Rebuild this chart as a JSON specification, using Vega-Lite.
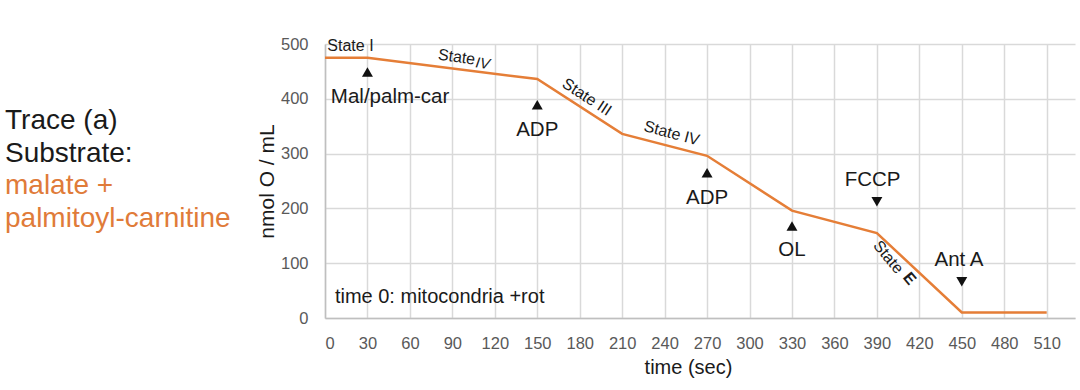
{
  "$schema": "https://vega.github.io/schema/vega-lite/v6.json",
  "background": "white",
  "padding": {"left": 5, "top": 36, "right": 5, "bottom": 5},
  "bounds": "flush",
  "spacing": 80,
  "config": {"view": {"stroke": null}, "font": "Liberation Sans"},
  "hconcat": [
    {
      "width": 240,
      "height": 274,
      "data": {"values": [
        {"line": "Trace (a)", "line_no": 1, "kind": "heading"},
        {"line": "Substrate:", "line_no": 2, "kind": "heading"},
        {"line": "malate +", "line_no": 3, "kind": "substrate"},
        {"line": "palmitoyl-carnitine", "line_no": 4, "kind": "substrate"}
      ]},
      "mark": {"type": "text", "align": "left", "baseline": "middle", "fontSize": 28, "font": "Liberation Sans"},
      "encoding": {
        "x": {"datum": 0, "type": "quantitative", "scale": {"domain": [0, 1], "nice": false, "zero": false}, "axis": null},
        "y": {"field": "line_no", "type": "quantitative", "scale": {"domain": [-1.36, 7.03], "reverse": true, "nice": false, "zero": false}, "axis": null},
        "text": {"field": "line"},
        "color": {"field": "kind", "type": "nominal", "scale": {"domain": ["heading", "substrate"], "range": ["#1a1a1a", "#E07B39"]}, "legend": null}
      }
    },
    {
      "width": 750,
      "height": 274,
      "layer": [
        {
          "data": {"values": [
            {"time": 0, "o2": 475},
            {"time": 30, "o2": 475},
            {"time": 150, "o2": 436},
            {"time": 210, "o2": 336},
            {"time": 270, "o2": 296},
            {"time": 330, "o2": 196},
            {"time": 390, "o2": 155},
            {"time": 450, "o2": 10},
            {"time": 510, "o2": 10}
          ]},
          "mark": {"type": "line", "color": "#E57E37", "strokeWidth": 2.5},
          "encoding": {
            "x": {"field": "time", "type": "quantitative",
              "scale": {"domain": [0, 530], "nice": false, "zero": false},
              "axis": {"values": [0, 30, 60, 90, 120, 150, 180, 210, 240, 270, 300, 330, 360, 390, 420, 450, 480, 510],
                "grid": true, "gridColor": "#d9d9d9", "gridWidth": 1.5, "ticks": false,
                "domainColor": "#bfbfbf", "domainWidth": 1.5,
                "labelFontSize": 16.5, "labelColor": "#595959", "labelPadding": 17, "labelFont": "Liberation Sans",
                "title": "time (sec)", "titleFontSize": 20, "titleFontWeight": "normal", "titleColor": "#1a1a1a", "titlePadding": 6, "titleFont": "Liberation Sans", "titleX": 363}},
            "y": {"field": "o2", "type": "quantitative",
              "scale": {"domain": [0, 500], "nice": false, "zero": false},
              "axis": {"values": [0, 100, 200, 300, 400, 500],
                "grid": true, "gridColor": "#d9d9d9", "gridWidth": 1.5, "ticks": false,
                "domainColor": "#bfbfbf", "domainWidth": 1.5,
                "labelFontSize": 16.5, "labelColor": "#595959", "labelPadding": 17, "labelFont": "Liberation Sans",
                "title": "nmol O / mL", "titleFontSize": 21, "titleFontWeight": "normal", "titleColor": "#1a1a1a", "titlePadding": 3, "titleFont": "Liberation Sans"}}
          }
        },
        {
          "data": {"name": "ann", "values": [
            {"time": 30, "tri": 449, "dir": "up", "label": "Mal/palm-car", "label_t": 46, "label_v": 403},
            {"time": 150, "tri": 389, "dir": "up", "label": "ADP", "label_t": 150, "label_v": 343},
            {"time": 270, "tri": 265, "dir": "up", "label": "ADP", "label_t": 270, "label_v": 219},
            {"time": 330, "tri": 168, "dir": "up", "label": "OL", "label_t": 330, "label_v": 124},
            {"time": 390, "tri": 212, "dir": "down", "label": "FCCP", "label_t": 387, "label_v": 252},
            {"time": 450, "tri": 66, "dir": "down", "label": "Ant A", "label_t": 448, "label_v": 106}
          ]},
          "layer": [
            {
              "mark": {"type": "point", "filled": true, "color": "#111111", "size": 120, "opacity": 1},
              "encoding": {
                "x": {"field": "time", "type": "quantitative"},
                "y": {"field": "tri", "type": "quantitative"},
                "shape": {"field": "dir", "type": "nominal", "scale": {"domain": ["up", "down"], "range": ["triangle-up", "triangle-down"]}, "legend": null}
              }
            },
            {
              "mark": {"type": "text", "fontSize": 20.5, "color": "#1a1a1a", "align": "center", "baseline": "middle"},
              "encoding": {
                "x": {"field": "label_t", "type": "quantitative"},
                "y": {"field": "label_v", "type": "quantitative"},
                "text": {"field": "label"}
              }
            }
          ]
        },
        {
          "data": {"values": [{"t": 7, "v": 38, "label": "time 0: mitocondria +rot"}]},
          "mark": {"type": "text", "fontSize": 20, "color": "#1a1a1a", "align": "left", "baseline": "middle"},
          "encoding": {
            "x": {"field": "t", "type": "quantitative"},
            "y": {"field": "v", "type": "quantitative"},
            "text": {"field": "label"}
          }
        },
        {
          "data": {"values": [{"t": 18, "v": 497, "label": "State I"}]},
          "mark": {"type": "text", "fontSize": 16, "color": "#1a1a1a", "align": "center", "baseline": "middle"},
          "encoding": {"x": {"field": "t", "type": "quantitative"}, "y": {"field": "v", "type": "quantitative"}, "text": {"field": "label"}}
        },
        {
          "data": {"values": [{"t": 93, "v": 476, "label": "State"}]},
          "mark": {"type": "text", "fontSize": 16, "color": "#1a1a1a", "align": "center", "baseline": "middle", "angle": 8},
          "encoding": {"x": {"field": "t", "type": "quantitative"}, "y": {"field": "v", "type": "quantitative"}, "text": {"field": "label"}}
        },
        {
          "data": {"values": [{"t": 111.5, "v": 465, "label": "IV"}]},
          "mark": {"type": "text", "fontSize": 15, "fontStyle": "italic", "color": "#1a1a1a", "align": "center", "baseline": "middle", "angle": 8},
          "encoding": {"x": {"field": "t", "type": "quantitative"}, "y": {"field": "v", "type": "quantitative"}, "text": {"field": "label"}}
        },
        {
          "data": {"values": [{"t": 185, "v": 403, "label": "State III"}]},
          "mark": {"type": "text", "fontSize": 16, "color": "#1a1a1a", "align": "center", "baseline": "middle", "angle": 33},
          "encoding": {"x": {"field": "t", "type": "quantitative"}, "y": {"field": "v", "type": "quantitative"}, "text": {"field": "label"}}
        },
        {
          "data": {"values": [{"t": 245, "v": 337, "label": "State IV"}]},
          "mark": {"type": "text", "fontSize": 16, "color": "#1a1a1a", "align": "center", "baseline": "middle", "angle": 15},
          "encoding": {"x": {"field": "t", "type": "quantitative"}, "y": {"field": "v", "type": "quantitative"}, "text": {"field": "label"}}
        },
        {
          "data": {"values": [{"t": 398, "v": 111, "label": "State"}]},
          "mark": {"type": "text", "fontSize": 16, "color": "#1a1a1a", "align": "center", "baseline": "middle", "angle": 50},
          "encoding": {"x": {"field": "t", "type": "quantitative"}, "y": {"field": "v", "type": "quantitative"}, "text": {"field": "label"}}
        },
        {
          "data": {"values": [{"t": 413, "v": 72, "label": "E"}]},
          "mark": {"type": "text", "fontSize": 16, "fontWeight": "bold", "color": "#1a1a1a", "align": "center", "baseline": "middle", "angle": 50},
          "encoding": {"x": {"field": "t", "type": "quantitative"}, "y": {"field": "v", "type": "quantitative"}, "text": {"field": "label"}}
        }
      ]
    }
  ]
}
